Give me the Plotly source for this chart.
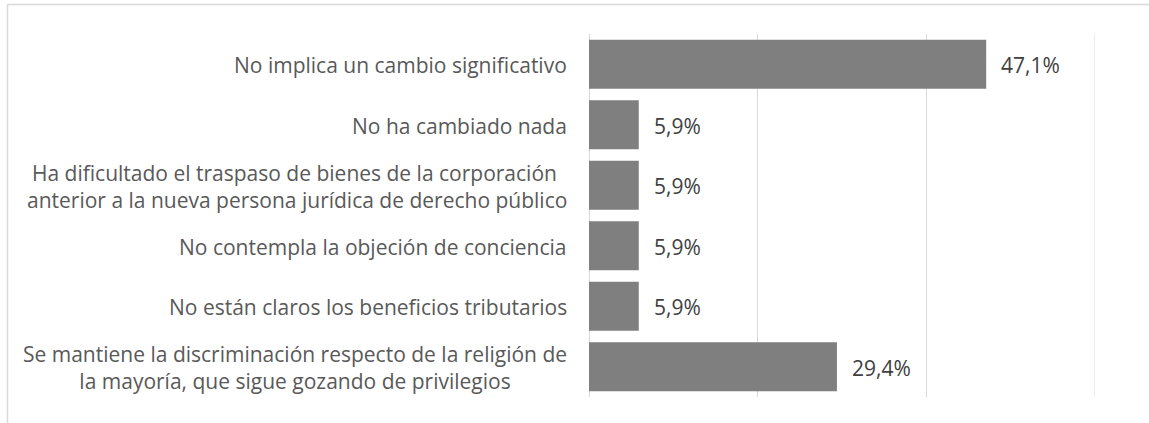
import plotly.graph_objects as go

categories = [
    "No implica un cambio significativo",
    "No ha cambiado nada",
    "Ha dificultado el traspaso de bienes de la corporación <br>anterior a la nueva persona jurídica de derecho público",
    "No contempla la objeción de conciencia",
    "No están claros los beneficios tributarios",
    "Se mantiene la discriminación respecto de la religión de<br>la mayoría, que sigue gozando de privilegios",
]
values = [47.1, 5.9, 5.9, 5.9, 5.9, 29.4]
value_labels = ["47,1%", "5,9%", "5,9%", "5,9%", "5,9%", "29,4%"]
x_ticks = [0, 20, 40, 60]
ids = [f"c{i}" for i in range(len(categories))]

FONT = "Open Sans"
fig = go.Figure()
fig.add_trace(go.Bar(
    y=ids, x=values, orientation="h",
    marker=dict(color="#7f7f7f", line=dict(width=0)),
    width=0.81, hoverinfo="skip",
))

annotations = []
for cid, cat, v, lab in zip(ids, categories, values, value_labels):
    annotations.append(dict(
        xref="paper", yref="y", x=0, y=cid, text=cat, showarrow=False,
        xanchor="right", yanchor="middle", align="center", xshift=-20, yshift=-1,
        font=dict(family=FONT, size=21, color="#595959"),
    ))
    annotations.append(dict(
        xref="x", yref="y", x=v, y=cid, text=lab, showarrow=False,
        xanchor="left", yanchor="middle", xshift=13, yshift=-1,
        font=dict(family=FONT, size=21, color="#404040"),
    ))

W, H = 1149, 423
L, R, T, B = 589, 54, 34, 26
pw, ph = W - L - R, H - T - B
def px(xp): return (xp - L) / pw
def py(yp): return (H - B - yp) / ph

shapes = [
    dict(type="line", xref="paper", yref="paper", x0=px(7.5), x1=px(1160), y0=py(4.5), y1=py(4.5),
         line=dict(color="#d9d9d9", width=1.5)),
    dict(type="line", xref="paper", yref="paper", x0=px(7.5), x1=px(7.5), y0=py(4.5), y1=py(430),
         line=dict(color="#d9d9d9", width=1.5)),
    dict(type="line", xref="x", yref="paper", x0=x_ticks[-1], x1=x_ticks[-1], y0=0, y1=1,
         line=dict(color="#d9d9d9", width=1), layer="below"),
]

fig.update_layout(
    width=W, height=H,
    margin=dict(l=L, r=R, t=T, b=B, pad=0),
    paper_bgcolor="white", plot_bgcolor="white",
    showlegend=False,
    annotations=annotations,
    shapes=shapes,
    xaxis=dict(range=[x_ticks[0], x_ticks[-1]], tickvals=x_ticks, showticklabels=False, showgrid=True,
               gridcolor="#d9d9d9", gridwidth=1, zeroline=True, zerolinecolor="#d9d9d9",
               zerolinewidth=1, showline=False, ticks="", fixedrange=True),
    yaxis=dict(categoryorder="array", categoryarray=ids, autorange="reversed",
               showticklabels=False, showgrid=False, zeroline=False, ticks="", showline=False),
)
fig.write_html("out.html", config={"displayModeBar": False},
               post_script="document.body.style.margin='0px';")
